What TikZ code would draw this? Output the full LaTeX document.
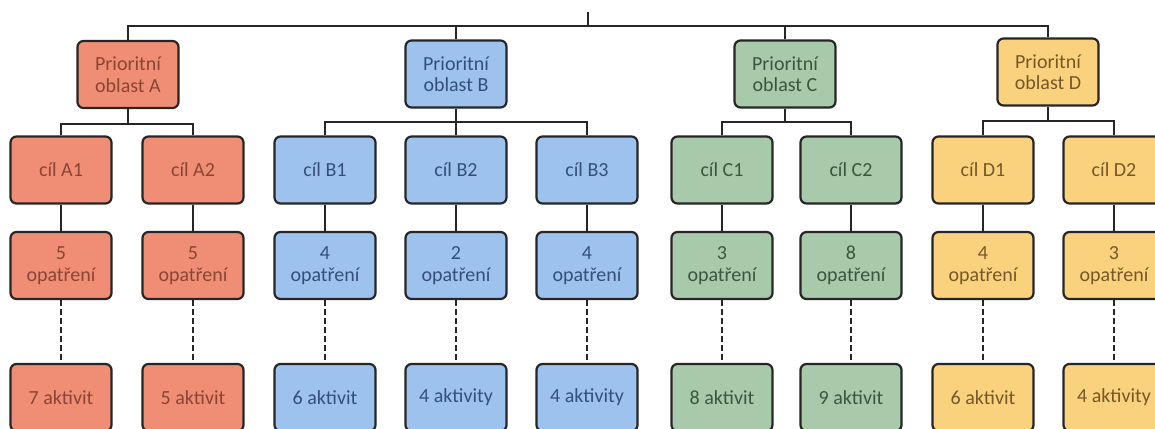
\documentclass[tikz,border=0pt]{standalone}
\usepackage{fontspec}
\setmainfont{Carlito}
\definecolor{fillA}{HTML}{F08E75}
\definecolor{fillB}{HTML}{9DC2EE}
\definecolor{fillC}{HTML}{A9C9AB}
\definecolor{fillD}{HTML}{FAD27D}
\definecolor{textA}{HTML}{8A4535}
\definecolor{textB}{HTML}{34507A}
\definecolor{textC}{HTML}{3A5640}
\definecolor{textD}{HTML}{765828}
\definecolor{linec}{HTML}{262626}
\tikzset{
  box/.style={draw=linec, line width=2.2pt, rounded corners=6pt, minimum width=101pt, minimum height=67pt, inner sep=0pt, align=center, font=\fontsize{20}{21.5}\selectfont},
  bA/.style={box, fill=fillA, text=textA},
  bB/.style={box, fill=fillB, text=textB},
  bC/.style={box, fill=fillC, text=textC},
  bD/.style={box, fill=fillD, text=textD},
  conn/.style={draw=linec, line width=2pt},
  dconn/.style={draw=linec, line width=2pt, dash pattern=on 6pt off 3pt}
}
\begin{document}
\begin{tikzpicture}[x=1pt,y=-1pt]
\useasboundingbox (0,0) rectangle (1155,428);
\fill[white] (0,0) rectangle (1155,428);
% root
\coordinate (root) at (588,12);
\coordinate (bus) at (588,26);
% priority areas
\node[bA] (pA) at (128,74.5) {Prioritní\\oblast A};
\node[bB] (pB) at (456,74) {Prioritní\\oblast B};
\node[bC] (pC) at (785,74) {Prioritní\\oblast C};
\node[bD] (pD) at (1048,72) {Prioritní\\oblast D};
% goals
\node[bA] (a1) at (61,170) {cíl A1};
\node[bA] (a2) at (193,170) {cíl A2};
\node[bB] (b1) at (325,170) {cíl B1};
\node[bB] (b2) at (456,170) {cíl B2};
\node[bB] (b3) at (587,170) {cíl B3};
\node[bC] (c1) at (722,170) {cíl C1};
\node[bC] (c2) at (851,170) {cíl C2};
\node[bD] (d1) at (983,170) {cíl D1};
\node[bD] (d2) at (1114,170) {cíl D2};
% measures
\node[bA] (ma1) at (61,265.5) {5\\opatření};
\node[bA] (ma2) at (193,265.5) {5\\opatření};
\node[bB] (mb1) at (325,265.5) {4\\opatření};
\node[bB] (mb2) at (456,265.5) {2\\opatření};
\node[bB] (mb3) at (587,265.5) {4\\opatření};
\node[bC] (mc1) at (722,265.5) {3\\opatření};
\node[bC] (mc2) at (851,265.5) {8\\opatření};
\node[bD] (md1) at (983,265.5) {4\\opatření};
\node[bD] (md2) at (1114,265.5) {3\\opatření};
% activities
\node[bA] (xa1) at (61,397.5) {7 aktivit};
\node[bA] (xa2) at (193,397.5) {5 aktivit};
\node[bB] (xb1) at (325,397.5) {6 aktivit};
\node[bB] (xb2) at (456,397.5) {4 aktivity};
\node[bB] (xb3) at (587,397.5) {4 aktivity};
\node[bC] (xc1) at (722,397.5) {8 aktivit};
\node[bC] (xc2) at (851,397.5) {9 aktivit};
\node[bD] (xd1) at (983,397.5) {6 aktivit};
\node[bD] (xd2) at (1114,397.5) {4 aktivity};
% top bus
\draw[conn] (root) -- (bus);
\draw[conn] (pA.north) |- (bus) -| (pD.north);
\draw[conn] (pB.north) -- (pB.north |- bus);
\draw[conn] (pC.north) -- (pC.north |- bus);
% goal buses
\draw[conn] (pA.south) -- ++(0,15) coordinate (ja);
\draw[conn] (a1.north) |- (ja) -| (a2.north);
\draw[conn] (pB.south) -- (b2.north);
\path (pB.south) ++(0,13) coordinate (jb);
\draw[conn] (b1.north) |- (jb) -| (b3.north);
\draw[conn] (pC.south) -- ++(0,13) coordinate (jc);
\draw[conn] (c1.north) |- (jc) -| (c2.north);
\draw[conn] (pD.south) -- ++(0,14) coordinate (jd);
\draw[conn] (d1.north) |- (jd) -| (d2.north);
% goal to measure
\foreach \g/\m in {a1/ma1,a2/ma2,b1/mb1,b2/mb2,b3/mb3,c1/mc1,c2/mc2,d1/md1,d2/md2}
  \draw[conn] (\g.south) -- (\m.north);
% measure to activity
\foreach \m/\x in {ma1/xa1,ma2/xa2,mb1/xb1,mb2/xb2,mb3/xb3,mc1/xc1,mc2/xc2,md1/xd1,md2/xd2}
  \draw[dconn] (\m.south) -- (\x.north);
\end{tikzpicture}
\end{document}
